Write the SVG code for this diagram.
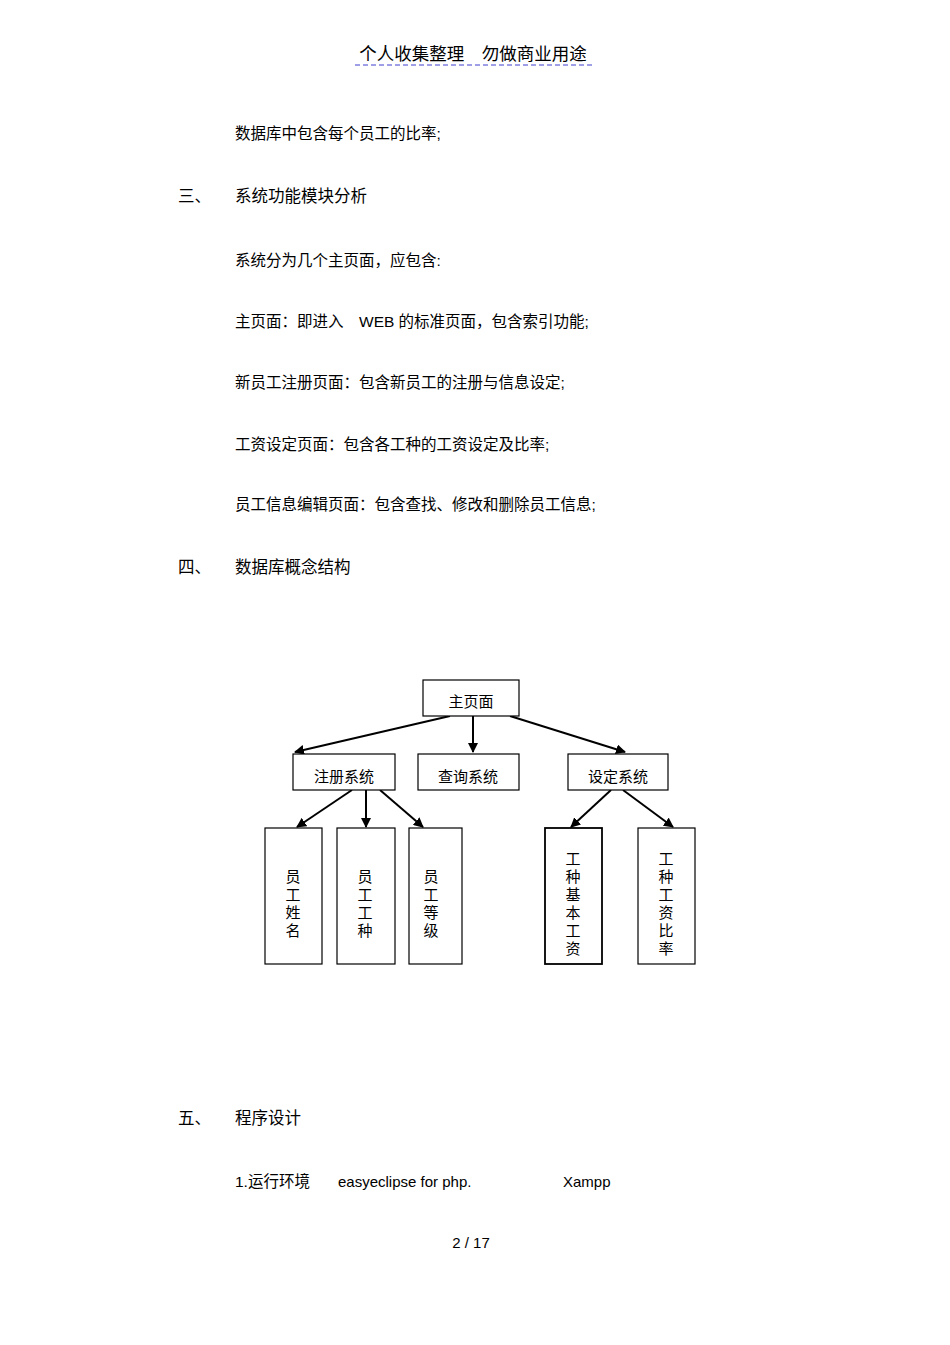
<svg xmlns="http://www.w3.org/2000/svg" width="950" height="1345" viewBox="0 0 950 1345">
<style>
text{font-family:"Liberation Sans","Noto Sans CJK SC",sans-serif;font-size:15px;fill:#000}
.t{font-size:15.5px}
.b{fill:#fff;stroke:#000;stroke-width:1.2}
.c line{stroke:#000;stroke-width:2;marker-end:url(#a)}
.m{text-anchor:middle}
</style>
<defs><marker id="a" viewBox="0 0 10 10" refX="9" refY="5" markerWidth="5" markerHeight="5" orient="auto"><path d="M0,0L10,5L0,10z" fill="#000"/></marker></defs>
<rect width="950" height="1345" fill="#fff"/>
<text x="473" y="60" class="m" style="font-size:17.5px">个人收集整理　勿做商业用途</text>
<line x1="355" y1="65" x2="593" y2="65" stroke="#8080e0" stroke-width="1.5" stroke-dasharray="5,3"/>
<text x="235" y="139" class="t">数据库中包含每个员工的比率;</text>
<text x="178" y="202" style="font-size:16.5px">三、</text><text x="235" y="202" style="font-size:16.5px">系统功能模块分析</text>
<text x="235" y="266" class="t">系统分为几个主页面，应包含:</text>
<text x="235" y="327" class="t">主页面：即进入　WEB 的标准页面，包含索引功能;</text>
<text x="235" y="388" class="t">新员工注册页面：包含新员工的注册与信息设定;</text>
<text x="235" y="450" class="t">工资设定页面：包含各工种的工资设定及比率;</text>
<text x="235" y="510" class="t">员工信息编辑页面：包含查找、修改和删除员工信息;</text>
<text x="178" y="573" style="font-size:16.5px">四、</text><text x="235" y="573" style="font-size:16.5px">数据库概念结构</text>
<g class="c">
<line x1="450" y1="716" x2="295" y2="752"/>
<line x1="473" y1="716" x2="473" y2="752"/>
<line x1="510" y1="716" x2="625" y2="752"/>
<line x1="352" y1="790" x2="297" y2="827"/>
<line x1="366" y1="790" x2="366" y2="827"/>
<line x1="380" y1="790" x2="423" y2="827"/>
<line x1="611" y1="790" x2="571" y2="827"/>
<line x1="623" y1="790" x2="673" y2="827"/>
</g>
<g id="n0"><rect class="b" x="423" y="680" width="96" height="36"/><text x="471" y="707" class="m">主页面</text></g>
<g id="n1"><rect class="b" x="293" y="754" width="102" height="36"/><text x="344" y="782" class="m">注册系统</text></g>
<g id="n2"><rect class="b" x="418" y="754" width="101" height="36"/><text x="468" y="782" class="m">查询系统</text></g>
<g id="n3"><rect class="b" x="568" y="754" width="100" height="36"/><text x="618" y="782" class="m">设定系统</text></g>
<g id="n4"><rect class="b" x="265" y="828" width="57" height="136"/><text x="293" y="882" class="m">员</text><text x="293" y="900" class="m">工</text><text x="293" y="918" class="m">姓</text><text x="293" y="936" class="m">名</text></g>
<g id="n5"><rect class="b" x="337" y="828" width="58" height="136"/><text x="365" y="882" class="m">员</text><text x="365" y="900" class="m">工</text><text x="365" y="918" class="m">工</text><text x="365" y="936" class="m">种</text></g>
<g id="n6"><rect class="b" x="409" y="828" width="53" height="136"/><text x="431" y="882" class="m">员</text><text x="431" y="900" class="m">工</text><text x="431" y="918" class="m">等</text><text x="431" y="936" class="m">级</text></g>
<g id="n7"><rect class="b" x="545" y="828" width="57" height="136" style="stroke-width:1.8"/><text x="573" y="864" class="m">工</text><text x="573" y="882" class="m">种</text><text x="573" y="900" class="m">基</text><text x="573" y="918" class="m">本</text><text x="573" y="936" class="m">工</text><text x="573" y="954" class="m">资</text></g>
<g id="n8"><rect class="b" x="638" y="828" width="57" height="136"/><text x="666" y="864" class="m">工</text><text x="666" y="882" class="m">种</text><text x="666" y="900" class="m">工</text><text x="666" y="918" class="m">资</text><text x="666" y="936" class="m">比</text><text x="666" y="954" class="m">率</text></g>
<text x="178" y="1124" style="font-size:16.5px">五、</text><text x="235" y="1124" style="font-size:16.5px">程序设计</text>
<text x="235" y="1187" class="t">1.运行环境</text><text x="338" y="1187">easyeclipse for php.</text><text x="563" y="1187">Xampp</text>
<text x="471" y="1248" class="m">2 / 17</text>
</svg>
